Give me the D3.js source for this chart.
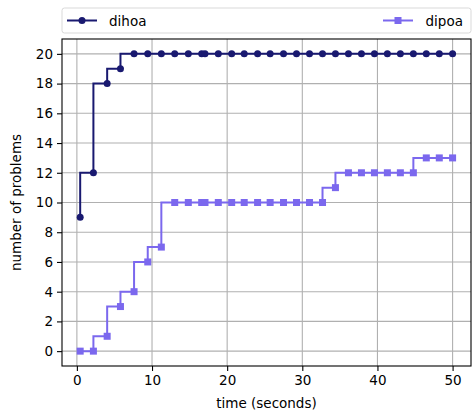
<!DOCTYPE html>
<html>
<head>
<meta charset="utf-8">
<script src="https://cdn.jsdelivr.net/npm/d3@7"></script>
<style>
body { margin: 0; background: #fff; }
text { font-family: "DejaVu Sans", sans-serif; }
</style>
</head>
<body>
<svg id="chart" width="472" height="414"></svg>
<script>
// time points shared by both runs
var times = [0.44, 2.2, 4.03, 5.8, 7.61, 9.43, 11.24, 13.02, 14.83, 16.61, 17.05, 18.82, 20.6, 22.27,
	24.05, 25.72, 27.5, 29.23, 30.96, 32.69, 34.41, 36.14, 37.87, 39.6, 41.32, 43.05, 44.78, 46.5, 48.23, 50];
var dihoa = [9, 12, 18, 19, 20, 20, 20, 20, 20, 20, 20, 20, 20, 20, 20,
	20, 20, 20, 20, 20, 20, 20, 20, 20, 20, 20, 20, 20, 20, 20];
var dipoa = [0, 0, 1, 3, 4, 6, 7, 10, 10, 10, 10, 10, 10, 10, 10,
	10, 10, 10, 10, 10, 11, 12, 12, 12, 12, 12, 12, 13, 13, 13];
var xTicks = [0, 10, 20, 30, 40, 50];
var yTicks = [0, 2, 4, 6, 8, 10, 12, 14, 16, 18, 20];

var _series = [
	{name: "dihoa", values: dihoa, color: "#191970", marker: "circle"},
	{name: "dipoa", values: dipoa, color: "#7b68ee", marker: "square"}
];

var svg = d3.select("#chart"),
	plot = {left: 62, top: 39, right: 471, bottom: 366};

var x = d3.scaleLinear().domain([-1.98, 52.45]).range([plot.left, plot.right]),
	y = d3.scaleLinear().domain([-1, 21]).range([plot.bottom, plot.top]);

// grid
var grid = svg.append("g").attr("class", "grid");
grid.selectAll("line.gx").data(xTicks).enter().append("line")
	.attr("x1", function(d){return x(d);}).attr("x2", function(d){return x(d);})
	.attr("y1", plot.top).attr("y2", plot.bottom)
	.attr("stroke", "#b0b0b0").attr("stroke-width", 1.1);
grid.selectAll("line.gy").data(yTicks).enter().append("line")
	.attr("y1", function(d){return y(d);}).attr("y2", function(d){return y(d);})
	.attr("x1", plot.left).attr("x2", plot.right)
	.attr("stroke", "#b0b0b0").attr("stroke-width", 1.1);

// step lines + markers
var line = d3.line()
	.x(function(d){return x(d[0]);})
	.y(function(d){return y(d[1]);})
	.curve(d3.curveStepBefore);

_series.forEach(function(s){
	var pts = times.map(function(t, i){return [t, s.values[i]];});
	var g = svg.append("g").attr("class", "series-" + s.name);
	g.append("path").datum(pts)
		.attr("d", line)
		.attr("fill", "none")
		.attr("stroke", s.color)
		.attr("stroke-width", 2);
	if(s.marker == "circle"){
		g.selectAll("circle").data(pts).enter().append("circle")
			.attr("cx", function(d){return x(d[0]);})
			.attr("cy", function(d){return y(d[1]);})
			.attr("r", 3.5)
			.attr("fill", s.color);
	}else{
		g.selectAll("rect").data(pts).enter().append("rect")
			.attr("x", function(d){return x(d[0]) - 3.5;})
			.attr("y", function(d){return y(d[1]) - 3.5;})
			.attr("width", 7).attr("height", 7)
			.attr("fill", s.color);
	}
});

// frame
svg.append("rect")
	.attr("x", plot.left).attr("y", plot.top)
	.attr("width", plot.right - plot.left).attr("height", plot.bottom - plot.top)
	.attr("fill", "none").attr("stroke", "#000").attr("stroke-width", 1.1);

// axes
var xAxis = d3.axisBottom(x).tickValues(xTicks).tickSize(5).tickPadding(4),
	yAxis = d3.axisLeft(y).tickValues(yTicks).tickSize(5).tickPadding(4);

var gx = svg.append("g").attr("transform", "translate(0," + plot.bottom + ")").call(xAxis);
var gy = svg.append("g").attr("transform", "translate(" + plot.left + ",0)").call(yAxis);
[gx, gy].forEach(function(g){
	g.select(".domain").remove();
	g.selectAll("line").attr("stroke", "#000").attr("stroke-width", 1.1);
	g.selectAll("text").attr("font-family", "DejaVu Sans").attr("font-size", 13.5).attr("fill", "#000");
});

svg.append("text")
	.attr("x", (plot.left + plot.right) / 2).attr("y", 408)
	.attr("text-anchor", "middle").attr("font-size", 13.5)
	.text("time (seconds)");
svg.append("text")
	.attr("transform", "translate(21," + ((plot.top + plot.bottom) / 2) + ") rotate(-90)")
	.attr("text-anchor", "middle").attr("font-size", 13.5)
	.text("number of problems");

// legend
var legend = svg.append("g").attr("class", "legend");
legend.append("rect")
	.attr("x", 62).attr("y", 8).attr("width", 409).attr("height", 25).attr("rx", 2.5)
	.attr("fill", "#fff").attr("stroke", "#d9d9d9").attr("stroke-width", 1);

var legendPos = [{handle: 67, text: 109}, {handle: 383, text: 425.5}];
_series.forEach(function(s, i){
	var p = legendPos[i], cy = 20.5;
	legend.append("line")
		.attr("x1", p.handle).attr("x2", p.handle + 30)
		.attr("y1", cy).attr("y2", cy)
		.attr("stroke", s.color).attr("stroke-width", 2);
	if(s.marker == "circle"){
		legend.append("circle").attr("cx", p.handle + 15).attr("cy", cy).attr("r", 3.5).attr("fill", s.color);
	}else{
		legend.append("rect").attr("x", p.handle + 11.5).attr("y", cy - 3.5)
			.attr("width", 7).attr("height", 7).attr("fill", s.color);
	}
	legend.append("text")
		.attr("x", p.text).attr("y", cy + 5)
		.attr("font-size", 13.5)
		.text(s.name);
});
</script>
</body>
</html>
